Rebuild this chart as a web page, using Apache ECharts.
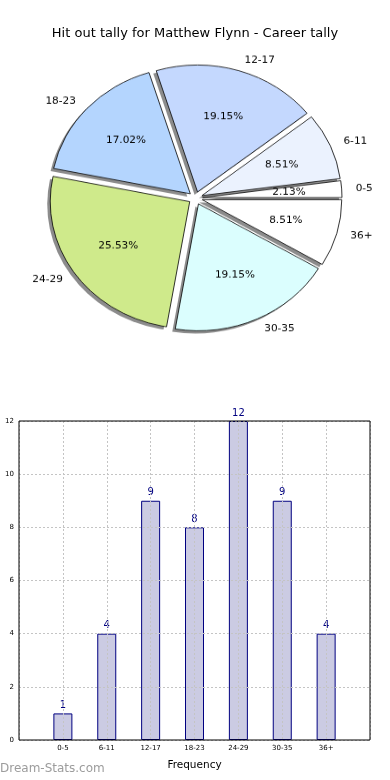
<!DOCTYPE html>
<html><head><meta charset="utf-8">
<script src="https://cdn.jsdelivr.net/npm/echarts@6/dist/echarts.min.js"></script>
<style>
html,body{margin:0;padding:0;background:#fff;}
#bar{position:absolute;left:0;top:0;width:390px;height:780px;}
#pie{position:absolute;left:0;top:0;width:390px;height:390px;transform:scaleY(0.91);transform-origin:0 0;}
</style></head><body>
<div id="bar"></div><div id="pie"></div>
<script>
const categories = ['0-5','6-11','12-17','18-23','24-29','30-35','36+'];
const tallies = [1, 4, 9, 8, 12, 9, 4];
const sliceColors = ['#ffffff','#ebf2fe','#c4d8fe','#b4d5fe','#cfea8b','#dbfefe','#ffffff'];
const yTickMin = 0, yTickMax = 12, yTickStep = 2;
const titleText = 'Hit out tally for Matthew Flynn - Career tally';
const xAxisName = 'Frequency';
const yAxisName = 'Stat Total Tally';
const watermark = 'Dream-Stats.com';

const FONT = 'DejaVu Sans';

// ---------- bar chart + title ----------
const bar = echarts.init(document.getElementById('bar'), null, {renderer:'canvas'});
const gridLine = {show:true, lineStyle:{color:'#c4c4c4', type:[2,2], width:1}};
bar.setOption({
  animation:false,
  textStyle:{fontFamily:FONT},
  title:{text:titleText, left:'center', top:22,
    textStyle:{fontSize:13, fontWeight:'normal', color:'#000', fontFamily:FONT}},
  graphic:[{type:'text', left:0, top:763,
    style:{text:watermark, fill:'#9c9c9c', font:'12px "DejaVu Sans"'}}],
  grid:{left:19, right:20, top:421, bottom:40, show:true, borderColor:'#000', borderWidth:1, z:4,
    containLabel:false, outerBoundsMode:'none'},
  xAxis:{type:'value', min:-1, max:categories.length, interval:1, z:3,
    axisLine:{show:false}, axisTick:{show:false},
    axisLabel:{fontSize:7, margin:5, color:'#000', fontFamily:FONT,
      formatter:(v)=> (categories[v] !== undefined ? categories[v] : '')},
    splitLine:gridLine,
    name:xAxisName, nameLocation:'middle', nameGap:20,
    nameTextStyle:{fontSize:10.5, color:'#000', fontFamily:FONT}},
  yAxis:{type:'value', min:yTickMin, max:yTickMax, interval:yTickStep, z:3,
    axisLine:{show:false}, axisTick:{show:false},
    axisLabel:{fontSize:7, margin:5, color:'#000', fontFamily:FONT},
    splitLine:gridLine,
    name:yAxisName, nameLocation:'middle', nameGap:5, nameRotate:90,
    nameTextStyle:{fontSize:10, color:'#000', fontFamily:FONT}},
  series:[{type:'bar', z:2, barWidth:19,
    data:tallies.map((v,i)=>[i,v]),
    itemStyle:{color:'#cbcbe3', borderColor:'#000080', borderWidth:1},
    label:{show:true, position:'top', distance:3, color:'#000080', fontSize:10, fontFamily:FONT,
      formatter:(p)=>p.value[1]}}]
});

// ---------- pie chart (squashed vertically like the original) ----------
const pie = echarts.init(document.getElementById('pie'), null, {renderer:'canvas'});
const R = 139.5;
const center = [195.5, 217.6];
const shadowCenter = [center[0]-3, center[1]+3];
const common = {type:'pie', startAngle:0, clockwise:false, selectedMode:'multiple', selectedOffset:7,
  avoidLabelOverlap:false, silent:true, emphasis:{disabled:true}};
pie.setOption({
  animation:false,
  series:[
    Object.assign({}, common, {center:shadowCenter, radius:R,
     itemStyle:{color:'rgba(0,0,0,0.45)', borderWidth:0},
     label:{show:false}, labelLine:{show:false},
     data:categories.map((c,i)=>({name:c, value:tallies[i], selected:true}))}),
    Object.assign({}, common, {center:center, radius:R,
     itemStyle:{borderColor:'#000', borderWidth:0.8},
     label:{show:true, position:'outside', color:'#000', fontSize:10.5, fontFamily:FONT,
       distanceToLabelLine:2, formatter:'{b}'},
     labelLine:{show:false, length:12, length2:0},
     data:categories.map((c,i)=>({name:c, value:tallies[i], selected:true,
       itemStyle:{color:sliceColors[i]}}))}),
    Object.assign({}, common, {center:center, radius:R*1.2,
     itemStyle:{color:'rgba(0,0,0,0)', borderWidth:0},
     label:{show:true, position:'inner', color:'#000', fontSize:10.5, fontFamily:FONT,
       formatter:'{d}%'},
     labelLine:{show:false},
     data:categories.map((c,i)=>({name:c, value:tallies[i], selected:true}))})
  ]
});
</script></body></html>
